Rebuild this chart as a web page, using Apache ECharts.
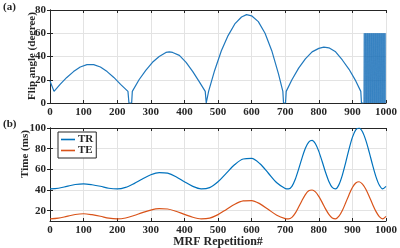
<!DOCTYPE html>
<html lang="en">
<head>
    <meta charset="UTF-8">
    <title>MRF schedule</title>
    <script src="https://cdn.jsdelivr.net/npm/echarts@6/dist/echarts.min.js"></script>
    <style>
        html, body { margin: 0; padding: 0; background: #fff; }
        #chart { width: 400px; height: 248px; }
    </style>
</head>
<body>
<div id="chart"></div>
<script>
    // (a) flip angle: repetition -> degree
    var faRep = [0, 12, 30, 50, 70, 90, 110, 130, 150, 170, 190, 210, 232, 235, 243,
        245, 265, 285, 305, 325, 345, 355, 365, 385, 405, 425, 445, 462, 465, 470,
        472, 490, 510, 530, 550, 570, 585, 600, 620, 640, 660, 680, 693, 695, 701,
        703, 720, 740, 760, 780, 800, 815, 830, 850, 870, 890, 910, 925, 927, 933];
    var faDeg = [19, 10, 16, 22, 27, 31, 33, 33, 31, 27, 22, 16, 10, 0, 0,
        10, 20, 28, 35, 40, 43.5, 44, 43.5, 41, 35, 27, 18, 10, 0, 0,
        10, 28, 45, 58, 68, 74, 76, 75, 70, 60, 45, 25, 10, 0, 0,
        10, 20, 30, 38, 44, 47, 48, 47.5, 44, 37, 29, 19, 10, 0, 0];
    // last block (rep 935..1000) alternates between 60 and 0
    var faTailStart = 935;
    var faTail = [60, 0, 60, 0, 60, 0, 60, 0, 60, 0, 60, 0, 60, 0, 60, 0, 60, 0, 60, 0, 60, 0,
        60, 0, 60, 0, 60, 0, 60, 0, 60, 0, 60, 0, 60, 0, 60, 0, 60, 0, 60, 0, 60, 0,
        60, 0, 60, 0, 60, 0, 60, 0, 60, 0, 60, 0, 60, 0, 60, 0, 60, 0, 60, 0, 60, 60];

    // (b) TR / TE (ms)
    var tRep = [0, 25, 50, 75, 100, 125, 150, 175, 200, 225, 250, 275, 300, 325, 350, 375, 400,
        425, 450, 475, 500, 525, 550, 575, 600, 625, 650, 675, 700, 710, 720, 730, 740, 750,
        760, 770, 780, 790, 800, 810, 820, 830, 840, 850, 860, 870, 880, 890, 900, 910, 920,
        930, 940, 950, 960, 970, 980, 990, 1000];
    var trMs = [41, 41.7, 43.5, 45.3, 46, 45.1, 43.6, 41.7, 41, 42.5, 46.2, 50.7, 54.8, 56.9, 56.3,
        52.9, 48, 43.5, 41.1, 42.3, 48, 56.4, 64.6, 70, 70.6, 65.4, 56.2, 47, 41.5, 41, 43.5,
        50.4, 60.2, 70.9, 80.4, 86.4, 88, 84.7, 77.4, 67.6, 57.2, 48.3, 42.5, 41.1, 45.2, 54.3,
        66.5, 79.6, 90.9, 98.1, 100, 96.3, 88, 76.7, 64.3, 53, 44.8, 41.1, 43.5];
    var teMs = [12, 12.7, 14.5, 16.3, 17, 16.1, 14.6, 12.7, 12, 12.9, 15.3, 18.1, 20.6, 21.9, 21.6,
        19.4, 16.4, 13.6, 12.1, 12.8, 16.2, 21.2, 26.2, 29.4, 29.8, 26.6, 21.1, 15.6, 12.3, 12, 13.5,
        17.6, 23.5, 29.9, 35.6, 39.2, 40, 38.2, 33.8, 28, 21.7, 16.4, 12.9, 12, 14.6, 20.1,
        27.6, 35.5, 42.4, 46.8, 48, 45.7, 40.7, 33.8, 26.2, 19.3, 14.3, 12.1, 14.5];

    var timeTicks = [20, 40, 60, 80, 100];
    var timeGrid = [20, 40, 60, 80];

    function pairs(xs, ys) {
        var out = [];
        for (var i = 0; i < xs.length; i++) out.push([xs[i], ys[i]]);
        return out;
    }
    var tailData = [];
    for (var k = 0; k < faTail.length; k++) tailData.push([faTailStart + k, faTail[k]]);
    // join the tail to the end of the main curve
    var faData = pairs(faRep, faDeg);
    tailData.unshift(faData[faData.length - 1]);

    var ink = '#262626';
    var gridCol = '#e3e3e3';
    var font = 'Liberation Serif';
    var lbl = { color: ink, fontFamily: font, fontWeight: 'bold', fontSize: 11,
                formatter: function (v) { return String(v); } };

    function xAx(gi, bottom) {
        return {
            type: 'value', gridIndex: gi, min: 0, max: 1000, interval: 100,
            position: bottom ? 'bottom' : 'top',
            axisLine: { show: true, onZero: false, lineStyle: { color: ink, width: 1 } },
            axisTick: { show: true, inside: true, length: 3, lineStyle: { color: ink } },
            axisLabel: bottom ? Object.assign({ margin: 4 }, lbl) : { show: false },
            splitLine: { show: bottom, lineStyle: { color: gridCol, width: 1 } }
        };
    }

    var myChart = echarts.init(document.getElementById('chart'));
    var option = {
        animation: false,
        grid: [
            { left: 50, right: 14, top: 10, height: 93 },
            { left: 50, right: 14, top: 128, height: 93 }
        ],
        xAxis: [xAx(0, true), xAx(0, false), xAx(1, true), xAx(1, false)],
        yAxis: [
            {
                type: 'value', gridIndex: 0, min: 0, max: 80, interval: 20, position: 'left',
                axisLine: { show: true, lineStyle: { color: ink } },
                axisTick: { show: true, inside: true, length: 3, lineStyle: { color: ink } },
                axisLabel: Object.assign({ margin: 4 }, lbl),
                splitLine: { show: true, lineStyle: { color: gridCol } }
            },
            {
                type: 'value', gridIndex: 0, min: 0, max: 80, interval: 20, position: 'right',
                axisLine: { show: true, lineStyle: { color: ink } },
                axisTick: { show: true, inside: true, length: 3, lineStyle: { color: ink } },
                axisLabel: { show: false }, splitLine: { show: false }
            },
            {
                type: 'value', gridIndex: 1, min: 10, max: 100, interval: 10, position: 'left',
                axisLine: { show: true, lineStyle: { color: ink } },
                axisTick: { show: true, inside: true, length: 3, customValues: timeTicks, lineStyle: { color: ink } },
                axisLabel: Object.assign({ margin: 4, customValues: timeTicks }, lbl),
                splitLine: { show: false }
            },
            {
                type: 'value', gridIndex: 1, min: 10, max: 100, interval: 10, position: 'right',
                axisLine: { show: true, lineStyle: { color: ink } },
                axisTick: { show: true, inside: true, length: 3, customValues: timeTicks, lineStyle: { color: ink } },
                axisLabel: { show: false }, splitLine: { show: false }
            }
        ],
        legend: {
            data: ['TR', 'TE'],
            orient: 'vertical',
            left: 58, top: 132,
            padding: [2, 3, 2, 3],
            itemGap: 0,
            itemWidth: 14, itemHeight: 1.6,
            icon: 'rect',
            backgroundColor: '#fff',
            borderColor: ink, borderWidth: 1,
            z: 10,
            textStyle: { color: ink, fontFamily: font, fontWeight: 'bold', fontSize: 11, padding: [0, 0, 0, -2] }
        },
        graphic: [
            { type: 'text', left: 3, top: 2, style: { text: '(a)', fill: ink, font: 'bold 11px "Liberation Serif"' } },
            { type: 'text', left: 3, top: 119, style: { text: '(b)', fill: ink, font: 'bold 11px "Liberation Serif"' } },
            { type: 'text', x: 32, y: 56, rotation: Math.PI / 2,
              style: { text: 'Flip angle (degree)', fill: ink, font: 'bold 11px "Liberation Serif"', align: 'center', verticalAlign: 'middle' } },
            { type: 'text', x: 25, y: 154, rotation: Math.PI / 2,
              style: { text: 'Time (ms)', fill: ink, font: 'bold 11px "Liberation Serif"', align: 'center', verticalAlign: 'middle' } },
            { type: 'text', x: 218, y: 242,
              style: { text: 'MRF Repetition#', fill: ink, font: 'bold 12px "Liberation Serif"', align: 'center', verticalAlign: 'middle' } }
        ],
        series: [
            {
                // horizontal grid lines of panel (b), kept under the curves
                name: 'grid', type: 'line', xAxisIndex: 2, yAxisIndex: 2, data: [], z: 0,
                markLine: {
                    silent: true, symbol: 'none', label: { show: false }, z: 0,
                    lineStyle: { color: gridCol, width: 1, type: 'solid' },
                    data: timeGrid.map(function (v) { return { yAxis: v }; })
                }
            },
            {
                name: 'Flip angle', type: 'line', xAxisIndex: 0, yAxisIndex: 0,
                data: faData, showSymbol: false,
                lineStyle: { color: '#1f78bd', width: 1.2 }
            },
            {
                name: 'Flip angle tail', type: 'line', xAxisIndex: 0, yAxisIndex: 0,
                data: tailData, showSymbol: false,
                lineStyle: { color: '#1f74ba', width: 0.6, opacity: 0.9 }
            },
            {
                name: 'TR', type: 'line', xAxisIndex: 2, yAxisIndex: 2,
                data: pairs(tRep, trMs), smooth: 0.3, showSymbol: false,
                color: '#0072BD', lineStyle: { color: '#0072BD', width: 1.2 }, z: 3
            },
            {
                name: 'TE', type: 'line', xAxisIndex: 2, yAxisIndex: 2,
                data: pairs(tRep, teMs), smooth: 0.3, showSymbol: false,
                color: '#D95319', lineStyle: { color: '#D95319', width: 1.2 }, z: 3
            }
        ]
    };
    myChart.setOption(option);
</script>
</body>
</html>
